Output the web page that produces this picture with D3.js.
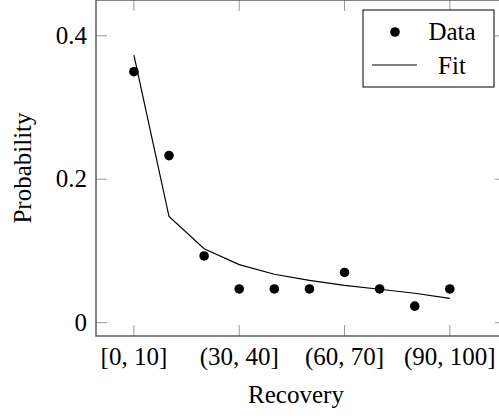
<!DOCTYPE html>
<meta charset="utf-8">
<title>recovery fit</title>
<style>
    body { margin: 0; background: white; }
    text { font-family: "Liberation Serif", serif; fill: black; }
</style>

<body>
    <script src="https://d3js.org/d3.v7.min.js" charset="utf-8"></script>
    <script>
        // -----------------------
        var categories = ["[0, 10]", "(10, 20]", "(20, 30]", "(30, 40]", "(40, 50]",
            "(50, 60]", "(60, 70]", "(70, 80]", "(80, 90]", "(90, 100]"];
        var dataValues = [0.35, 0.233, 0.093, 0.047, 0.047, 0.047, 0.07, 0.047, 0.023, 0.047];
        var fitValues = [0.373, 0.148, 0.103, 0.081, 0.0675, 0.059, 0.052, 0.0466, 0.041, 0.034];
        var xTicks = [0, 3, 6, 9];
        var yTicks = [0, 0.2, 0.4];
        var yTickLabels = ["0", "0.2", "0.4"];

        var width = 499,
            height = 420;
        // note: "top" is taken by window.top, so use plot* names
        var plotLeft = 96, plotRight = 506, plotTop = 0, plotBottom = 336;

        var svg = d3.select("body").append("svg")
            .attr("width", width)
            .attr("height", height);

        var x = d3.scaleLinear().domain([-1.08, 10.6]).range([plotLeft, plotRight]);
        var y = d3.scaleLinear().domain([-0.0186, 0.45]).range([plotBottom, plotTop]);

        // ticks, inside on all four sides
        var tickLen = 11;
        var ticks = svg.append("g")
            .style("stroke", "#9a9a9a")
            .style("stroke-width", 1);

        xTicks.forEach(function (t) {
            ticks.append("line")
                .attr("x1", x(t)).attr("x2", x(t))
                .attr("y1", plotBottom).attr("y2", plotBottom - tickLen);
            ticks.append("line")
                .attr("x1", x(t)).attr("x2", x(t))
                .attr("y1", plotTop).attr("y2", plotTop + tickLen);
        });
        yTicks.forEach(function (t) {
            ticks.append("line")
                .attr("x1", plotLeft).attr("x2", plotLeft + tickLen)
                .attr("y1", y(t)).attr("y2", y(t));
            ticks.append("line")
                .attr("x1", plotRight).attr("x2", plotRight - tickLen)
                .attr("y1", y(t)).attr("y2", y(t));
        });

        svg.append("rect")
            .attr("x", plotLeft).attr("y", plotTop)
            .attr("width", plotRight - plotLeft).attr("height", plotBottom - plotTop)
            .style("fill", "none")
            .style("stroke", "#444")
            .style("stroke-width", 1.3);

        // tick labels
        svg.selectAll(".xlab").data(xTicks).enter().append("text")
            .attr("class", "xlab")
            .attr("x", function (d) { return x(d); })
            .attr("y", 365)
            .attr("text-anchor", "middle")
            .style("font-size", "25px")
            .text(function (d) { return categories[d]; });

        svg.selectAll(".ylab").data(yTicks).enter().append("text")
            .attr("class", "ylab")
            .attr("x", 87)
            .attr("y", function (d) { return y(d) + 8; })
            .attr("text-anchor", "end")
            .style("font-size", "25px")
            .text(function (d, i) { return yTickLabels[i]; });

        // axis titles
        svg.append("text")
            .attr("x", 296)
            .attr("y", 403)
            .attr("text-anchor", "middle")
            .style("font-size", "25px")
            .text("Recovery");

        svg.append("text")
            .attr("transform", "translate(31," + (plotBottom + plotTop) / 2 + ") rotate(-90)")
            .attr("text-anchor", "middle")
            .style("font-size", "25px")
            .text("Probability");

        // fit line
        var line = d3.line()
            .x(function (d, i) { return x(i); })
            .y(function (d) { return y(d); });

        svg.append("path")
            .datum(fitValues)
            .attr("d", line)
            .style("fill", "none")
            .style("stroke", "black")
            .style("stroke-width", 1.2);

        // data points
        svg.selectAll(".dot").data(dataValues).enter().append("circle")
            .attr("class", "dot")
            .attr("cx", function (d, i) { return x(i); })
            .attr("cy", function (d) { return y(d); })
            .attr("r", 4.8)
            .style("fill", "black");

        // legend
        var legend = svg.append("g");
        legend.append("rect")
            .attr("x", 363).attr("y", 10)
            .attr("width", 131).attr("height", 77)
            .style("fill", "white")
            .style("stroke", "black")
            .style("stroke-width", 1);
        legend.append("circle")
            .attr("cx", 395).attr("cy", 32).attr("r", 4.8)
            .style("fill", "black");
        legend.append("line")
            .attr("x1", 372).attr("x2", 417)
            .attr("y1", 65).attr("y2", 65)
            .style("stroke", "black")
            .style("stroke-width", 1.2);
        legend.append("text")
            .attr("x", 452).attr("y", 40)
            .attr("text-anchor", "middle")
            .style("font-size", "25px")
            .text("Data");
        legend.append("text")
            .attr("x", 452).attr("y", 74)
            .attr("text-anchor", "middle")
            .style("font-size", "25px")
            .text("Fit");
    </script>
</body>
